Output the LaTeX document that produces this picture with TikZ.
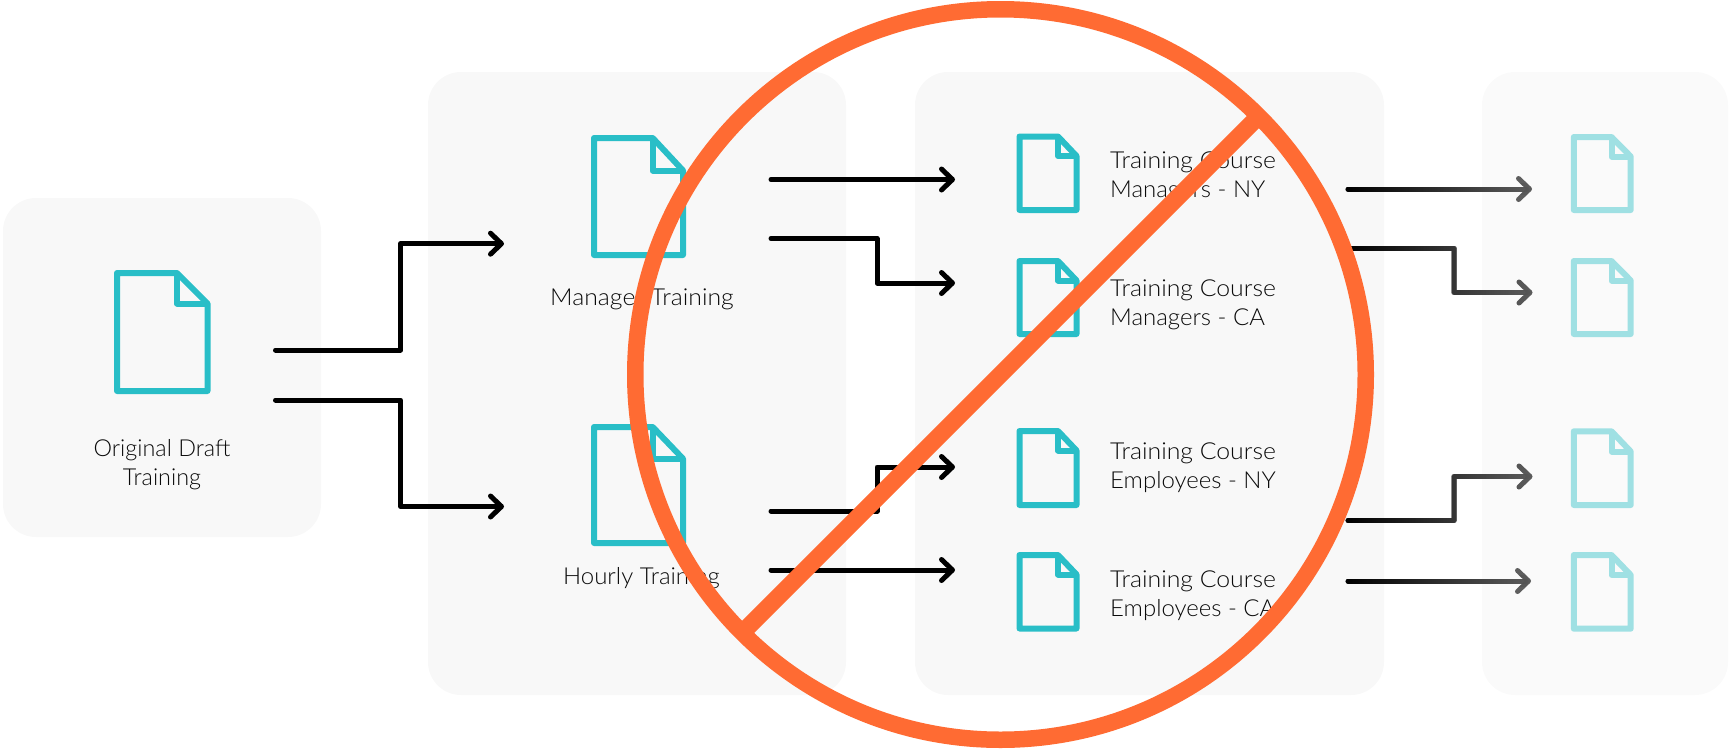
\documentclass[tikz,border=0pt]{standalone}
\usepackage{fontspec}
\setmainfont{Lato}[UprightFont=* Light]
\newfontfamily\fb{Lato}[UprightFont=* Light,FakeStretch=1.025]
\newfontfamily\fc{Lato}[UprightFont=* Light,FakeStretch=1.06]
\usetikzlibrary{arrows.meta,fadings}
\definecolor{panelc}{HTML}{F8F8F8}
\definecolor{panelf}{HTML}{FAFAFA}
\definecolor{tealc}{HTML}{29BEC7}
\definecolor{teall}{HTML}{9FE0E3}
\definecolor{orangec}{HTML}{FF6B33}
\definecolor{txt}{HTML}{0A0A0A}
\definecolor{greyc}{HTML}{5E5E5E}
\tikzfading[name=fadeout,left color=transparent!0,right color=transparent!100]
\tikzset{
  x=1pt,y=-1pt,
  panel/.style={fill=panelc,draw=none,rounded corners=33pt},
  docline/.style={line width=6pt,line join=round,draw=tealc},
  conn/.style={line width=5pt,line cap=round,line join=round,draw=black,
    -{Straight Barb[length=11pt,width=21pt,line width=5pt,round]}},
  connbase/.style={conn,draw=greyc},
  connfade/.style={conn,draw=black,path fading=fadeout},
  lbl/.style={inner sep=0pt,font=\fontsize{23.4}{29.4}\selectfont,text=txt,align=left,anchor=north west},
  clbl/.style={inner sep=0pt,font=\fontsize{23.4}{29.4}\selectfont,text=txt,align=center,anchor=north},
}
\newcommand{\docicon}[7][tealc]{%
  % colour; left, top, right, bottom, foldx, foldy
  \draw[docline,draw=#1] (#2,#3) -- (#6,#3) -- (#4,#7) -- (#4,#5) -- (#2,#5) -- cycle;
  \draw[docline,draw=#1] (#6,#3) -- (#6,#7) -- (#4,#7);
}
\newcommand{\strt}{\rule{0pt}{20pt}}
\begin{document}
\begin{tikzpicture}
\useasboundingbox (0,0) rectangle (1729,750);
% panels
\fill[panel] (3,198) rectangle (321,537);
\fill[panel] (428,72) rectangle (846,695);
\fill[panel] (915,72) rectangle (1384,695);
\fill[panel,fill=panelf] (1482,72) rectangle (1728,695);
% documents
\docicon{117}{273}{207.5}{391}{177}{303.5}
\docicon{594}{138}{683}{255}{652.7}{170.5}
\docicon{594}{427}{683}{543}{652.7}{458.7}
\docicon{1019.5}{136.5}{1076.5}{210}{1058}{156}
\docicon{1019.5}{261}{1076.5}{334}{1058}{280.5}
\docicon{1019.5}{431}{1076.5}{505}{1058}{450.5}
\docicon{1019.5}{555}{1076.5}{628.5}{1058}{574.5}
\docicon[teall]{1573.8}{137}{1630.7}{210}{1611.5}{156.5}
\docicon[teall]{1573.8}{261}{1630.7}{334}{1611.5}{280.5}
\docicon[teall]{1573.8}{431.3}{1630.7}{505}{1611.5}{451.5}
\docicon[teall]{1573.8}{555}{1630.7}{628.7}{1611.5}{575}
% labels
\node[clbl] (draft) at (162,436) {\strt Original Draft\\Training};
\node[clbl] (mgr) at (642,285) {\strt\fc Manager Training};
\node[clbl] (hourly) at (641.5,564) {\strt\fb Hourly Training};
\node[lbl] (c1) at (1110,148) {\strt\fc Training Course\\\fb Managers - NY};
\node[lbl] (c2) at (1110,276) {\strt\fc Training Course\\\fb Managers - CA};
\node[lbl] (c3) at (1110,439) {\strt\fc Training Course\\\fb Employees - NY};
\node[lbl] (c4) at (1110,567) {\strt\fc Training Course\\\fb Employees - CA};
% connector ends
\coordinate (a1s) at (275.5,350); \coordinate (a1e) at (504,243.7);
\coordinate (a2s) at (275.5,400); \coordinate (a2e) at (504,506.5);
\coordinate (b1s) at (771,179.5); \coordinate (b1e) at (955,179.5);
\coordinate (b2s) at (771,238.5); \coordinate (b2e) at (955,283);
\coordinate (b3s) at (771,511);   \coordinate (b3e) at (955,467);
\coordinate (b4s) at (771,570);   \coordinate (b4e) at (955,570);
\coordinate (d1s) at (1348,189);  \coordinate (d1e) at (1532,189);
\coordinate (d2s) at (1348,248);  \coordinate (d2e) at (1532.5,292.5);
\coordinate (d3s) at (1348,520.5);\coordinate (d3e) at (1532.5,476.5);
\coordinate (d4s) at (1348,581);  \coordinate (d4e) at (1531,581);
% black connectors
\draw[conn] (a1s) -- (400.7,350) |- (a1e);
\draw[conn] (a2s) -- (400.7,400) |- (a2e);
\draw[conn] (b1s) -- (b1e);
\draw[conn] (b2s) -- (877,238.5) |- (b2e);
\draw[conn] (b3s) -- (877,511) |- (b3e);
\draw[conn] (b4s) -- (b4e);
% fading connectors
\foreach \st in {connbase,connfade}{
  \draw[\st] (d1s) -- (d1e);
  \draw[\st] (d2s) -- (1454,248) |- (d2e);
  \draw[\st] (d3s) -- (1454,520.5) |- (d3e);
  \draw[\st] (d4s) -- (d4e);
}
% prohibition sign
\coordinate (sc) at (1000.5,374.5);
\draw[orangec,line width=16.5pt] (sc) circle[radius=365.25];
\draw[orangec,line width=17pt] (1258.5,116.5) -- (742.5,632.5);
\end{tikzpicture}
\end{document}
